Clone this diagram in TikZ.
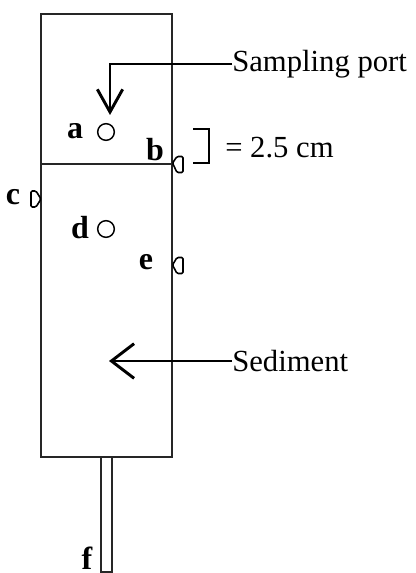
\documentclass[tikz,border=0pt]{standalone}
\usepackage{fontspec}
\setmainfont{Liberation Serif}
\usetikzlibrary{arrows.meta}

\tikzset{
  wall/.style={line width=1.3pt, black!85},
  lbl/.style={font=\fontsize{23}{25}\selectfont, inner sep=0pt, anchor=west},
  letter/.style={font=\fontsize{24}{26}\selectfont\bfseries, inner sep=0pt},
  port/.style={circle, draw, line width=1.1pt, minimum size=12.5pt, inner sep=0pt},
  nub/.style={line width=1.2pt, line join=round, rounded corners=1pt},
  pointer/.style={line width=1.5pt, -{Straight Barb[length=17pt, width=#1, line width=2.2pt]}}
}

\begin{document}
\begin{tikzpicture}[x=0.75pt, y=-0.75pt]
\useasboundingbox (0,0) rectangle (416,573);

\draw[wall] (41,14) rectangle (172,457);
\draw[wall] (41,164) -- (172,164);
\draw[wall] (101,457) -- (101,572) -- (112,572) -- (112,457);

\node[port] (porta) at (106,132) {};
\node[port] (portd) at (106,229) {};

\draw[nub] (172.5,163) -- (177,156.5) -- (183,156.5) -- (183,172.5) -- (177,172.5) -- cycle;
\draw[nub] (41,199) -- (36,191) -- (31,191) -- (31,207) -- (36,207) -- cycle;
\draw[nub] (172.5,265) -- (177,257.5) -- (183,257.5) -- (183,273.5) -- (177,273.5) -- cycle;

\node[letter] (a) at (75,131) {a};
\node[letter] (b) at (155,150) {b};
\node[letter] (c) at (13,197) {c};
\node[letter] (d) at (80,228) {d};
\node[letter] (e) at (146,262) {e};
\node[letter] (f) at (87,558) {f};

\node[lbl] (sampling) at (232,64) {Sampling port};
\node[lbl] (sediment) at (232,361) {Sediment};
\node[lbl] (dist) at (225,148) {= 2.5 cm};

\coordinate (sampletip) at (110,115);
\coordinate (sedtip) at (109,361);
\draw[pointer=19pt] (sampling.west) -| (sampletip);
\draw[pointer=26pt] (sediment.west) -- (sedtip);

\draw[line width=1.1pt] (193,129) -- (209,129) -- (209,163) -- (193,163);

\end{tikzpicture}
\end{document}
